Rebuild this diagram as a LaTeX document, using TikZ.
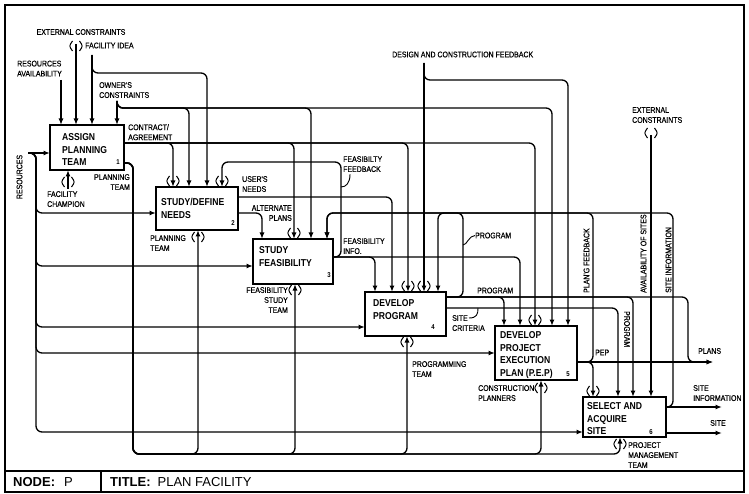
\documentclass[tikz,border=0pt]{standalone}
\usepackage{fontspec}
\setmainfont{Liberation Sans}
\newfontfamily\lblfont[FakeStretch=0.85,FakeBold=0.6]{Liberation Sans}
\newfontfamily\boxfont[FakeStretch=0.86]{Liberation Sans}
\usetikzlibrary{arrows.meta,positioning,calc}
\tikzset{
  % Activity boxes
  actbox/.style={draw,line width=2.8pt,anchor=north west,inner sep=0pt,outer sep=0pt},
  acttext/.style={anchor=north west,align=left,inner sep=0pt,
                  font=\boxfont\bfseries\fontsize{10}{12.6}\selectfont},
  actnum/.style={inner sep=0pt,font=\boxfont\bfseries\fontsize{7}{8}\selectfont},
  % Arrow labels
  lbl/.style={inner sep=0pt,align=left,font=\lblfont\fontsize{8.2}{10}\selectfont},
  lblr/.style={lbl,align=right},
  % Connectors, tunnels & squiggles
  fl/.style={-{Latex[length=6.5pt,width=5pt]},line width=1.3pt,rounded corners=6pt},
  tun/.style={line width=1pt},
  sq/.style={line width=0.9pt},
  frm/.style={line width=1.5pt}
}
\newcommand{\tunnelmark}[2]{%
  \draw[tun] ({#1-3.5},{#2-5}) .. controls ({#1-7},{#2}) .. ({#1-3.5},{#2+5});
  \draw[tun] ({#1+3.5},{#2-5}) .. controls ({#1+7},{#2}) .. ({#1+3.5},{#2+5});}
\begin{document}
\begin{tikzpicture}[x=1pt,y=-1pt]
  \useasboundingbox (0,0) rectangle (749,494);
  % Sheet frame & title bar
  \draw[frm] (5,5) rectangle (744,492);
  \draw[frm] (5,471) -- (744,471);
  \draw[frm] (101,471) -- (101,492);
  \node[anchor=west,inner sep=0pt,font=\fontsize{13}{15}\selectfont] (ndno) at (13,482) {\textbf{NODE:}\hspace{9pt}P};
  \node[anchor=west,inner sep=0pt,font=\fontsize{13}{15}\selectfont] (ndtitle) at (110,482) {\textbf{TITLE:}\hspace{7pt}PLAN FACILITY};

  % Activity boxes
  \node[actbox,minimum width=74pt,minimum height=45pt] (b1) at (50,125) {};
  \node[actbox,minimum width=82pt,minimum height=43pt] (b2) at (156,187) {};
  \node[actbox,minimum width=80pt,minimum height=45pt] (b3) at (253,239) {};
  \node[actbox,minimum width=81pt,minimum height=44pt] (b4) at (365,292) {};
  \node[actbox,minimum width=82pt,minimum height=54pt] (b5) at (495,326) {};
  \node[actbox,minimum width=83pt,minimum height=40pt] (b6) at (583,397) {};

  \node[acttext] (t1) at (62,133.5) {ASSIGN\\PLANNING\\TEAM};
  \node[acttext] (t2) at (161,198.5) {STUDY/DEFINE\\NEEDS};
  \node[acttext] (t3) at (259,246.5) {STUDY\\FEASIBILITY};
  \node[acttext] (t4) at (373,299.5) {DEVELOP\\PROGRAM};
  \node[acttext] (t5) at (500,331.5) {DEVELOP\\PROJECT\\EXECUTION\\PLAN (P.E.P)};
  \node[acttext] (t6) at (587,402.5) {SELECT AND\\ACQUIRE\\SITE};

  \node[actnum] (n1) at (118,162) {1};
  \node[actnum] (n2) at (233,223) {2};
  \node[actnum] (n3) at (329,275) {3};
  \node[actnum] (n4) at (433,327) {4};
  \node[actnum] (n5) at (568,374) {5};
  \node[actnum] (n6) at (651,432) {6};

  % Labels
  \node[lbl,anchor=center] (lEC) at (81,32) {EXTERNAL CONSTRAINTS};
  \node[lbl,anchor=west] (lFI) at (85,45.5) {FACILITY IDEA};
  \node[lbl,anchor=north west] (lRA) at (17,60.5) {RESOURCES\\AVAILABILITY};
  \node[lbl,anchor=north west] (lOC) at (99,82) {OWNER'S\\CONSTRAINTS};
  \node[lbl,anchor=north west] (lCA) at (128,124) {CONTRACT/\\AGREEMENT};
  \node[lblr,anchor=north east] (lPT1) at (130,174) {PLANNING\\TEAM};
  \node[lbl,anchor=north west] (lFC) at (47,191) {FACILITY\\CHAMPION};
  \node[lbl,rotate=90] (lRS) at (19.5,177) {RESOURCES};
  \node[lbl,anchor=north west] (lUN) at (242,176) {USER'S\\NEEDS};
  \node[lblr,anchor=north east] (lAP) at (292,205) {ALTERNATE\\PLANS};
  \node[lbl,anchor=north west] (lFB) at (343,156) {FEASIBILTY\\FEEDBACK};
  \node[lbl,anchor=north west] (lFN) at (343,238) {FEASIBILITY\\INFO.};
  \node[lbl,anchor=west] (lPG1) at (475,235.5) {PROGRAM};
  \node[lbl,anchor=west] (lPG2) at (477,290.5) {PROGRAM};
  \node[lbl,anchor=north west] (lSC) at (452,315) {SITE\\CRITERIA};
  \node[lbl,anchor=west] (lDC) at (392,54.5) {DESIGN AND CONSTRUCTION FEEDBACK};
  \node[lbl,anchor=north west] (lEX) at (632,107) {EXTERNAL\\CONSTRAINTS};
  \node[lbl,rotate=90,anchor=west] (lPF) at (586.5,293) {PLAN'G FEEDBACK};
  \node[lbl,rotate=90,anchor=west] (lAS) at (643.5,293) {AVAILABILITY OF SITES};
  \node[lbl,rotate=90,anchor=west] (lSI) at (668.5,293) {SITE INFORMATION};
  \node[lbl,rotate=-90,anchor=west] (lPG3) at (627,311) {PROGRAM};
  \node[lbl,anchor=west] (lPEP) at (595,352.5) {PEP};
  \node[lbl,anchor=west] (lPL) at (698,351) {PLANS};
  \node[lbl,anchor=north west] (lSI2) at (693,385) {SITE\\INFORMATION};
  \node[lbl,anchor=west] (lST) at (710,423) {SITE};
  \node[lbl,anchor=north west] (lPT2) at (150,235) {PLANNING\\TEAM};
  \node[lblr,anchor=north east] (lFST) at (288,287) {FEASIBILITY\\STUDY\\TEAM};
  \node[lbl,anchor=north west] (lPRT) at (412,361) {PROGRAMMING\\TEAM};
  \node[lbl,anchor=north west] (lCP) at (478,385) {CONSTRUCTION\\PLANNERS};
  \node[lbl,anchor=north west] (lPMT) at (628,442) {PROJECT\\MANAGEMENT\\TEAM};

  % Controls into box 1
  \coordinate (sRA) at (61,80);
  \coordinate (sEC) at (76,44);
  \coordinate (sFI) at (92,55);
  \coordinate (sOC) at (117,101);
  \draw[fl] (sRA) -- (sRA |- b1.north);
  \draw[fl] (sEC) -- (sEC |- b1.north);
  \draw[fl] (sFI) -- (sFI |- b1.north);
  \draw[fl] (sOC) -- (sOC |- b1.north);
  \tunnelmark{76}{46}

  % Facility idea & owner's constraints further on
  \coordinate (kFI) at (207,73);
  \draw[fl] (sFI) |- (kFI) -- (kFI |- b2.north);
  \coordinate (kOC2) at (189,108);
  \coordinate (kOC3) at (311,108);
  \coordinate (kOC5) at (552,108);
  \draw[fl] (sOC) |- (kOC2) -- (kOC2 |- b2.north);
  \draw[fl] (sOC) |- (kOC3) -- (kOC3 |- b3.north);
  \draw[fl] (sOC) |- (kOC5) -- (kOC5 |- b5.north);

  % Resources
  \coordinate (sRS) at (28,153);
  \coordinate (kR2) at (36,213);
  \coordinate (kR3) at (36,266);
  \coordinate (kR4) at (36,327);
  \coordinate (kR5) at (36,353);
  \coordinate (kR6) at (36,432);
  \draw[fl] (sRS) -- (sRS -| b1.west);
  \draw[fl] (sRS) -| (kR2) -- (kR2 -| b2.west);
  \draw[fl] (sRS) -| (kR3) -- (kR3 -| b3.west);
  \draw[fl] (sRS) -| (kR4) -- (kR4 -| b4.west);
  \draw[fl] (sRS) -| (kR5) -- (kR5 -| b5.west);
  \draw[fl] (sRS) -| (kR6) -- (kR6 -| b6.west);

  % Facility champion
  \coordinate (sFC) at (68,189);
  \draw[fl] (sFC) -- (sFC |- b1.south);
  \tunnelmark{68}{182}

  % Contract / agreement
  \coordinate (kCA2) at (173,143);
  \coordinate (kCA3) at (294,143);
  \coordinate (kCA4) at (408,143);
  \coordinate (kCA5) at (535,143);
  \draw[fl] (kCA2 -| b1.east) -| (kCA2 |- b2.north);
  \draw[fl] (kCA3 -| b1.east) -| (kCA3 |- b3.north);
  \draw[fl] (kCA4 -| b1.east) -| (kCA4 |- b4.north);
  \draw[fl] (kCA5 -| b1.east) -| (kCA5 |- b5.north);

  % Planning team to the mechanisms
  \coordinate (kPT) at (133,163);
  \coordinate (kPB) at (133,454);
  \coordinate (kM2) at (198,454);
  \coordinate (kM3) at (295,454);
  \coordinate (kM4) at (407,454);
  \coordinate (kM5) at (541,454);
  \coordinate (kM6) at (620,454);
  \draw[fl] (kPT -| b1.east) -- (kPT) -- (kPB) -- (kM2) -- (kM2 |- b2.south);
  \draw[fl] (kPT -| b1.east) -- (kPT) -- (kPB) -- (kM3) -- (kM3 |- b3.south);
  \draw[fl] (kPT -| b1.east) -- (kPT) -- (kPB) -- (kM4) -- (kM4 |- b4.south);
  \draw[fl] (kPT -| b1.east) -- (kPT) -- (kPB) -- (kM5) -- (kM5 |- b5.south);
  \draw[fl] (kPT -| b1.east) -- (kPT) -- (kPB) -- (kM6) -- (kM6 |- b6.south);

  % Box 2 outputs
  \coordinate (kUN) at (392,197);
  \coordinate (kAP) at (262,213);
  \draw[fl] (kUN -| b2.east) -| (kUN |- b4.north);
  \draw[fl] (kAP -| b2.east) -| (kAP |- b3.north);

  % Box 3 outputs
  \coordinate (kFN4) at (375,257);
  \coordinate (kFN5) at (520,257);
  \coordinate (kFB1) at (341,162);
  \coordinate (kFB2) at (222,162);
  \draw[fl] (kFN4 -| b3.east) -| (kFN4 |- b4.north);
  \draw[fl] (kFN5 -| b3.east) -| (kFN5 |- b5.north);
  \draw[fl] (kFN4 -| b3.east) -| (kFB1) -- (kFB2) -- (kFB2 |- b2.north);

  % Design and construction feedback
  \coordinate (sDC) at (424,63);
  \coordinate (kDC) at (568,80);
  \draw[fl] (sDC) -- (sDC |- b4.north);
  \draw[fl] (sDC) |- (kDC) -- (kDC |- b5.north);

  % Box 4 outputs
  \coordinate (kPG5) at (504,297);
  \coordinate (kPG6) at (633,297);
  \coordinate (kLP) at (463,213);
  \coordinate (kLP4) at (438,213);
  \coordinate (kPL) at (688,362);
  \coordinate (oPL) at (713,362);
  \coordinate (kSC) at (618,308);
  \draw[fl] (kPG5 -| b4.east) -| (kPG5 |- b5.north);
  \draw[fl] (kPG6 -| b4.east) -| (kPG6 |- b6.north);
  \draw[fl] (kPG5 -| b4.east) -| (kPL) -- (oPL);
  \draw[fl] (kPG5 -| b4.east) -| (kLP) -- (kLP4) -- (kLP4 |- b4.north);
  \draw[fl] (kSC -| b4.east) -| (kSC |- b6.north);

  % Box 5 outputs
  \coordinate (kPE) at (593,362);
  \coordinate (kPF) at (593,213);
  \coordinate (kPF3) at (327,213);
  \draw[fl] (oPL -| b5.east) -- (oPL);
  \draw[fl] (oPL -| b5.east) -| (kPE |- b6.north);
  \draw[fl] (oPL -| b5.east) -| (kPF) -- (kPF3) -- (kPF3 |- b3.north);

  % Box 6 control & outputs
  \coordinate (sEX) at (651,135);
  \coordinate (oSI) at (722,407);
  \coordinate (kSI) at (673,213);
  \coordinate (oST) at (722,433);
  \draw[fl] (sEX) -- (sEX |- b6.north);
  \tunnelmark{651}{133}
  \draw[fl] (oSI -| b6.east) -- (oSI);
  \draw[fl] (oSI -| b6.east) -| (kSI) -- (kPF3) -- (kPF3 |- b3.north);
  \draw[fl] (oST -| b6.east) -- (oST);

  % Tunnelled arrows
  \tunnelmark{173}{181}
  \tunnelmark{222}{181}
  \tunnelmark{294}{233}
  \tunnelmark{408}{286}
  \tunnelmark{424}{286}
  \tunnelmark{535}{320}
  \tunnelmark{593}{391}
  \tunnelmark{198}{237}
  \tunnelmark{295}{290}
  \tunnelmark{407}{342}
  \tunnelmark{541}{388}
  \tunnelmark{620}{444}

  % Squiggles
  \coordinate (qFB) at (341,187);
  \coordinate (qPG) at (463,245);
  \coordinate (qSC) at (478,308);
  \draw[sq] ($(lFB.south west)+(7,2)$) .. controls +(0,9) and +(5,0) .. (qFB);
  \draw[sq] (lPG1.west) .. controls +(-6,0) and +(4,0) .. (qPG);
  \draw[sq] ($(lSC.north west)+(17,3)$) .. controls +(8,0) and +(0,6) .. (qSC);
\end{tikzpicture}
\end{document}
